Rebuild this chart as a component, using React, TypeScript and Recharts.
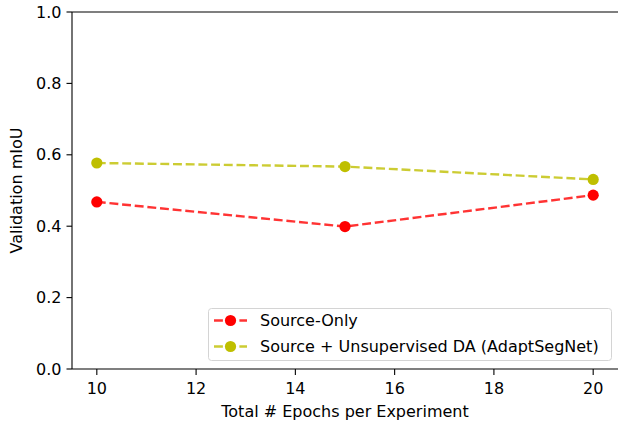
import React from "react";
import { LineChart, Line, XAxis, YAxis, Legend, ReferenceLine, Label } from "recharts";

const epochs = [10, 15, 20];
const sourceOnly = [0.468, 0.399, 0.487];
const adaptSegNet = [0.577, 0.567, 0.531];
const xTicks = [10, 12, 14, 16, 18, 20];
const yTicks = [0, 0.2, 0.4, 0.6, 0.8, 1.0];
const seriesNames = ["Source-Only", "Source + Unsupervised DA (AdaptSegNet)"];

const data = epochs.map((e, i) => ({ epoch: e, a: sourceOnly[i], b: adaptSegNet[i] }));

const FONT = "DejaVu Sans, sans-serif";
const FS = 16;
const RED = "#ff0000";
const OLIVE = "#bfbf00";
const DASH = "8.9 3.8";
const LW = 2.4;
const R = 5.6;

const LegendBox = (props: any) => {
  const payload = [...(props.payload || [])].sort(
    (p: any, q: any) => seriesNames.indexOf(p.value) - seriesNames.indexOf(q.value)
  );
  return (
    <svg width={405} height={54} style={{ display: "block" }}>
      <rect x={0.5} y={0.5} width={403} height={52} rx={3} ry={3} fill="#fff" fillOpacity={0.8} stroke="#d4d4d4" strokeWidth={1} />
      {payload.map((p: any, i: number) => {
        const cy = 12.5 + 26 * i;
        return (
          <g key={i}>
            <line x1={6} y1={cy} x2={39} y2={cy} stroke={p.color} strokeOpacity={0.8} strokeWidth={LW} strokeDasharray={DASH} />
            <circle cx={22.5} cy={cy} r={R} fill={p.color} />
            <text x={52} y={cy + 5.8} fontFamily={FONT} fontSize={FS} fill="#000">
              {p.value}
            </text>
          </g>
        );
      })}
    </svg>
  );
};

const YLabel = () => (
  <text
    x={22}
    y={190.5}
    transform="rotate(-90, 22, 190.5)"
    textAnchor="middle"
    fontFamily={FONT}
    fontSize={FS}
    fill="#000"
  >
    Validation mIoU
  </text>
);

export default function App() {
  return (
    <div style={{ position: "absolute", left: 0, top: 0, background: "#fff" }}>
      <LineChart
        width={618}
        height={421}
        data={data}
        margin={{ top: 12, right: 0, bottom: 22, left: 0 }}
        style={{ fontFamily: FONT }}
      >
        <XAxis
          dataKey="epoch"
          type="number"
          domain={[9.5, 20.5]}
          ticks={xTicks}
          allowDataOverflow
          height={30}
          stroke="#000"
          strokeWidth={1.1}
          tickSize={6}
          tickMargin={8}
          tick={{ fill: "#000", fontSize: FS, fontFamily: FONT }}
        >
          <Label
            value="Total # Epochs per Experiment"
            position="insideBottom"
            offset={-17.6}
            style={{ fill: "#000", fontSize: FS, fontFamily: FONT }}
          />
        </XAxis>
        <YAxis
          type="number"
          domain={[0, 1]}
          ticks={yTicks}
          width={72}
          stroke="#000"
          strokeWidth={1.1}
          tickSize={5.5}
          tickMargin={5}
          tickFormatter={(v: number) => v.toFixed(1)}
          tick={{ fill: "#000", fontSize: FS, fontFamily: FONT }}
          label={<YLabel />}
        />
        <ReferenceLine y={1} stroke="#000" strokeWidth={1.1} />
        <Line
          dataKey="a"
          name={seriesNames[0]}
          stroke={RED}
          strokeOpacity={0.8}
          strokeWidth={LW}
          strokeDasharray={DASH}
          dot={{ r: R, fill: RED, stroke: RED, strokeWidth: 0 }}
          isAnimationActive={false}
        />
        <Line
          dataKey="b"
          name={seriesNames[1]}
          stroke={OLIVE}
          strokeOpacity={0.8}
          strokeWidth={LW}
          strokeDasharray={DASH}
          dot={{ r: R, fill: OLIVE, stroke: OLIVE, strokeWidth: 0 }}
          isAnimationActive={false}
        />
        <Legend
          layout="vertical"
          align="center"
          verticalAlign="middle"
          content={<LegendBox />}
          wrapperStyle={{ left: 208, top: 308, width: 405, height: 54 }}
        />
      </LineChart>
    </div>
  );
}
